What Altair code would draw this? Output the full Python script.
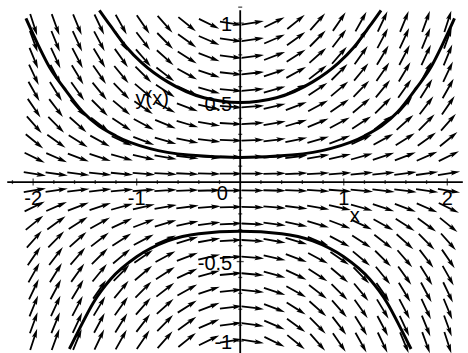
import math
import altair as alt
import pandas as pd

# Direction field for dy/dx = x*y, sampled on a 20 x 20 grid
grid_x = [-2.0, -1.789, -1.579, -1.368, -1.158, -0.947, -0.737, -0.526, -0.316, -0.105,
          0.105, 0.316, 0.526, 0.737, 0.947, 1.158, 1.368, 1.579, 1.789, 2.0]
grid_y = [-1.0, -0.895, -0.789, -0.684, -0.579, -0.474, -0.368, -0.263, -0.158, -0.053,
          0.053, 0.158, 0.263, 0.368, 0.474, 0.579, 0.684, 0.789, 0.895, 1.0]

# Three solution curves y(x)
upper_x = [-1.36, -1.25, -1.1, -0.95, -0.7, -0.35, 0.0, 0.35, 0.7, 0.95, 1.1, 1.25, 1.36]
upper_y = [1.08, 0.98, 0.85, 0.75, 0.63, 0.53, 0.50, 0.53, 0.63, 0.75, 0.85, 0.98, 1.08]

middle_x = [-2.07, -1.95, -1.84, -1.7, -1.52, -1.2, -0.87, -0.5, 0.0,
            0.5, 0.87, 1.2, 1.52, 1.7, 1.84, 1.95, 2.07]
middle_y = [1.03, 0.86, 0.72, 0.59, 0.44, 0.29, 0.21, 0.17, 0.155,
            0.17, 0.21, 0.29, 0.44, 0.59, 0.72, 0.86, 1.03]

lower_x = [-1.65, -1.55, -1.42, -1.25, -1.0, -0.7, -0.4, 0.0, 0.4, 0.7, 1.0, 1.25, 1.42, 1.55, 1.65]
lower_y = [-1.05, -0.92, -0.76, -0.61, -0.47, -0.37, -0.325, -0.31, -0.325, -0.37, -0.47, -0.61,
           -0.76, -0.92, -1.05]

# Axis ticks and labels
x_major = [-2, -1, 1, 2]
x_major_text = ["-2", "-1", "1", "2"]
x_minor = [-2.2, -1.8, -1.6, -1.4, -1.2, -0.8, -0.6, -0.4, -0.2,
           0.2, 0.4, 0.6, 0.8, 1.2, 1.4, 1.6, 1.8]
y_major = [1, 0.5, -0.5, -1]
y_major_text = ["1", "0.5", "-0.5", "-1"]
y_minor = [1.1, 0.9, 0.8, 0.7, 0.6, 0.4, 0.3, 0.2, 0.1,
           -0.1, -0.2, -0.3, -0.4, -0.6, -0.7, -0.8, -0.9]

W, H = 468, 353
X_DOMAIN = [-2.32, 2.20]
Y_DOMAIN = [-1.075, 1.145]

xs = alt.Scale(domain=X_DOMAIN, nice=False, zero=False)
ys = alt.Scale(domain=Y_DOMAIN, nice=False, zero=False)

# pixels per data unit, used so each arrow points along the slope as drawn on screen
px_x = W / (X_DOMAIN[1] - X_DOMAIN[0])
px_y = H / (Y_DOMAIN[1] - Y_DOMAIN[0])

rows = []
for gx in grid_x:
    for gy in grid_y:
        slope = gx * gy
        theta = math.degrees(math.atan(slope * px_y / px_x))
        rows.append({"x": gx, "y": gy, "angle": (-theta) % 360})
field = pd.DataFrame(rows)

# slim arrow: shaft from -1 to 1 with a small head at the right end
ARROW = "M-1,0L1,0M1,0L0.62,-0.1L0.7,0L0.62,0.1Z"

arrows = alt.Chart(field).mark_point(
    shape=ARROW, size=360, filled=True, fill="black", stroke="black",
    strokeWidth=1.8, opacity=1, clip=True,
).encode(
    x=alt.X("x:Q", scale=xs, axis=None),
    y=alt.Y("y:Q", scale=ys, axis=None),
    angle=alt.Angle("angle:Q", scale=None),
)

curves = pd.concat([
    pd.DataFrame({"x": upper_x, "y": upper_y, "curve": "upper"}),
    pd.DataFrame({"x": middle_x, "y": middle_y, "curve": "middle"}),
    pd.DataFrame({"x": lower_x, "y": lower_y, "curve": "lower"}),
])
solution = alt.Chart(curves).mark_line(
    color="black", strokeWidth=3, interpolate="monotone", clip=True
).encode(
    x=alt.X("x:Q", scale=xs, axis=None),
    y=alt.Y("y:Q", scale=ys, axis=None),
    detail="curve:N",
)

# Axes crossing at the origin
axis_lines = pd.DataFrame({
    "x": [-2.25, 0.0], "x2": [2.15, 0.0],
    "y": [0.0, -1.075], "y2": [0.0, 1.08],
})
axes = alt.Chart(axis_lines).mark_rule(color="black", strokeWidth=1.8).encode(
    x=alt.X("x:Q", scale=xs, axis=None), x2="x2:Q",
    y=alt.Y("y:Q", scale=ys, axis=None), y2="y2:Q",
)

xt = pd.DataFrame({"x": x_major + x_minor, "y": 0.0,
                   "len": [7] * len(x_major) + [4] * len(x_minor)})
x_ticks = alt.Chart(xt).mark_tick(orient="vertical", color="black", thickness=1.3).encode(
    x=alt.X("x:Q", scale=xs, axis=None),
    y=alt.Y("y:Q", scale=ys, axis=None),
    size=alt.Size("len:Q", scale=None),
    yOffset=alt.YOffset("len:Q", scale=None),
)
yt = pd.DataFrame({"x": 0.0, "y": y_major + y_minor,
                   "len": [7] * len(y_major) + [4] * len(y_minor)})
y_ticks = alt.Chart(yt).mark_tick(orient="horizontal", color="black", thickness=1.3).encode(
    x=alt.X("x:Q", scale=xs, axis=None),
    y=alt.Y("y:Q", scale=ys, axis=None),
    size=alt.Size("len:Q", scale=None),
)

FONT = "Liberation Sans"
FS = 20

xl = pd.DataFrame({"x": x_major, "y": 0.0, "t": x_major_text})
x_labels = alt.Chart(xl).mark_text(
    font=FONT, fontSize=FS, dy=17, align="center", baseline="middle", color="black"
).encode(x=alt.X("x:Q", scale=xs, axis=None), y=alt.Y("y:Q", scale=ys, axis=None), text="t:N")

yl = pd.DataFrame({"x": 0.0, "y": y_major, "t": y_major_text})
y_labels = alt.Chart(yl).mark_text(
    font=FONT, fontSize=FS, dx=-8, dy=2, align="right", baseline="middle", color="black"
).encode(x=alt.X("x:Q", scale=xs, axis=None), y=alt.Y("y:Q", scale=ys, axis=None), text="t:N")

origin = alt.Chart(pd.DataFrame({"x": [0.0], "y": [0.0], "t": ["0"]})).mark_text(
    font=FONT, fontSize=FS, dx=-18, dy=12, align="center", baseline="middle", color="black"
).encode(x=alt.X("x:Q", scale=xs, axis=None), y=alt.Y("y:Q", scale=ys, axis=None), text="t:N")

x_title = alt.Chart(pd.DataFrame({"x": [1.0], "y": [0.0], "t": ["x"]})).mark_text(
    font=FONT, fontSize=FS, dx=11, dy=34, align="center", baseline="middle", color="black"
).encode(x=alt.X("x:Q", scale=xs, axis=None), y=alt.Y("y:Q", scale=ys, axis=None), text="t:N")

y_title = alt.Chart(pd.DataFrame({"x": [0.0], "y": [0.5], "t": ["y(x)"]})).mark_text(
    font=FONT, fontSize=FS, dx=-88, dy=-4, align="center", baseline="middle", color="black"
).encode(x=alt.X("x:Q", scale=xs, axis=None), y=alt.Y("y:Q", scale=ys, axis=None), text="t:N")

chart = alt.layer(
    arrows, solution, axes, x_ticks, y_ticks, x_labels, y_labels, origin, x_title, y_title
).properties(
    width=W, height=H, padding=0,
    autosize=alt.AutoSizeParams(type="none"),
    background="white",
).configure_view(stroke=None)

chart.save("out.html", embed_options={"renderer": "svg", "actions": False})
